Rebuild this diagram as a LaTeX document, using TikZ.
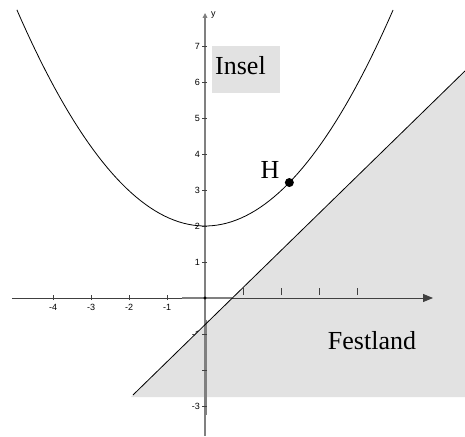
\documentclass[tikz,border=0pt]{standalone}
\usepackage{fontspec}
\setmainfont{Liberation Serif}
\setsansfont{Liberation Sans}
\usetikzlibrary{arrows.meta,positioning}
\definecolor{landgray}{HTML}{E2E2E2}
\definecolor{axisgray}{HTML}{808080}

\begin{document}
\begin{tikzpicture}[
  x=38pt, y=36pt,
  tick/.style={font=\sffamily\fontsize{9}{10}\selectfont, inner sep=1pt},
  big/.style={font=\fontsize{26}{30}\selectfont, inner sep=0pt},
  xaxis/.style={line width=0.9pt, black!75},
  yaxis/.style={line width=1.4pt, axisgray},
  curve/.style={line width=0.8pt},
  arr/.style={-{Triangle[length=10pt,width=8pt]}},
  sarr/.style={-{Triangle[length=5pt,width=4.5pt]}}
]
\useasboundingbox (-5.395,-3.861) rectangle (6.842,8.278);
\coordinate (O) at (0,0);
\coordinate (xl) at (-5.08,0);
\coordinate (xr) at (6.0,0);
\coordinate (yb) at (0,-3.83);
\coordinate (yt) at (0,7.92);
\coordinate (la) at (-1.895,-2.694);
\coordinate (lb) at (6.842,6.307);
\coordinate (H) at (2.22,3.2075);

\foreach \i in {-4,...,-1}
  \node[tick, below=5pt] (xlab\i) at (\i,0) {\i};
\foreach \i in {-3,...,-1,1,2,...,7}
  \node[tick, left=4pt] (ylab\i) at (0,\i) {\i};

\fill[landgray] (-1.951,-2.75) -- (lb) -- (6.842,-2.75) -- cycle;

\draw[xaxis, arr] (xl) -- (xr);
\draw[yaxis, sarr] (yb) -- (yt);
\draw[axisgray, line width=1.6pt] (-0.6,0) -- (0.72,0);
\draw[yaxis] ([xshift=1.5pt]0,-0.6) -- ([xshift=1.5pt]0,-3.25);
\foreach \i in {-4,...,-1}
  \draw[xaxis, line width=0.6pt] ([yshift=-2pt]\i,0) -- ([yshift=3pt]\i,0);
\foreach \i in {1,...,4}
  \draw[xaxis, line width=0.6pt] ([yshift=3pt]\i,0) -- ([yshift=10pt]\i,0);
\foreach \i in {-3,...,-1,1,2,...,7}
  \draw[xaxis, line width=0.6pt] ([xshift=-3pt]0,\i) -- ([xshift=1.5pt]0,\i);
\node[tick] (ylab) at (0.22,7.86) {y};
\fill (O) circle (1.6pt);

\draw[curve] (la) -- (lb);
\draw[curve] plot[domain=-4.95:4.95, samples=80] (\x,{2+0.245*\x*\x});

\node[big, fill=landgray, anchor=north west, minimum width=68pt, minimum height=47pt,
  text width=62pt, align=left, inner xsep=3pt, text depth=8pt] (insel) at (0.184,7.0) {Insel};
\fill (H) circle (4.5pt);
\node[big] (hlab) at (1.71,3.56) {H};
\node[big] (festland) at (4.395,-1.19) {Festland};
\end{tikzpicture}
\end{document}
